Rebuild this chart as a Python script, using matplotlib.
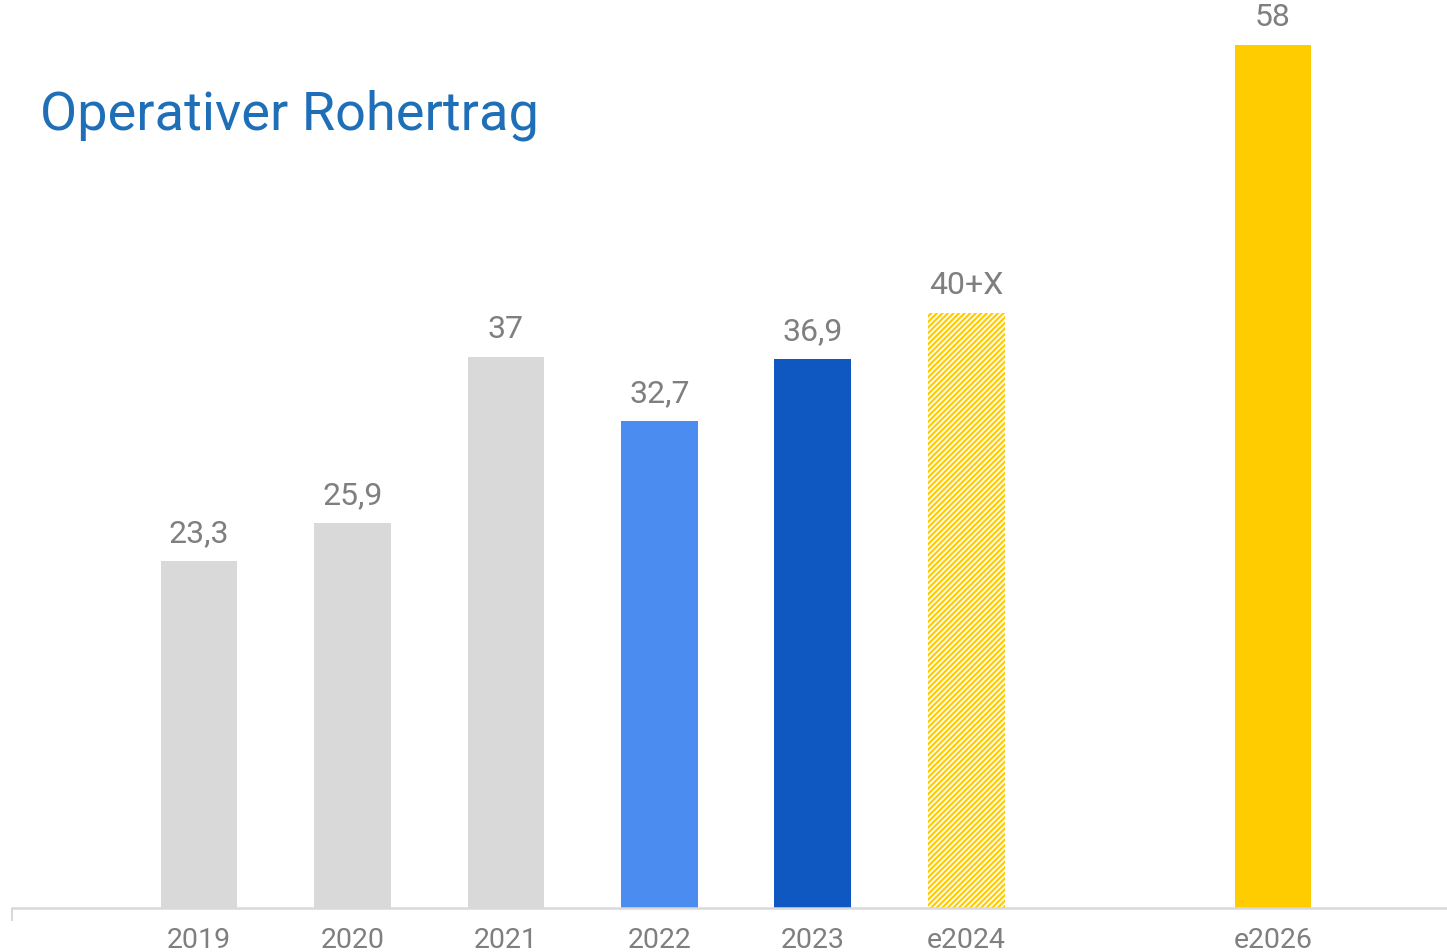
import matplotlib
matplotlib.use("Agg")
import matplotlib.pyplot as plt

plt.rcParams['font.family'] = ['Roboto', 'DejaVu Sans']
plt.rcParams['hatch.linewidth'] = 1.6

categories = ["2019", "2020", "2021", "2022", "2023", "e2024", "e2026"]
slots = [0, 1, 2, 3, 4, 5, 7]
values = [23.3, 25.9, 37.0, 32.7, 36.9, 40.0, 58.0]
value_labels = ["23,3", "25,9", "37", "32,7", "36,9", "40+X", "58"]
colors = ["#d9d9d9", "#d9d9d9", "#d9d9d9", "#4a8cef", "#0f57c1", "white", "#ffcc00"]
hatches = [None, None, None, None, None, "//////", None]

W, H = 1447, 953
fig = plt.figure(figsize=(W / 100, H / 100), dpi=100)
x0, x1 = 12, 1447
ybase, ytop = 909, 16
ax = fig.add_axes([x0 / W, (H - ybase) / H, (x1 - x0) / W, (ybase - ytop) / H])

for s, v, c, h, lab in zip(slots, values, colors, hatches, value_labels):
    if h:
        ax.bar(s, v, width=0.5, color="white", edgecolor="#ffcc00", hatch=h, linewidth=0)
    else:
        ax.bar(s, v, width=0.5, color=c, linewidth=0)
    ax.annotate(lab, (s, v), xytext=(0, 10), textcoords="offset points",
                ha="center", va="bottom", fontsize=23, color="#7f7f7f")

spacing = (1273 - 199) / 7
xmin = -(199 - x0) / spacing
xmax = 7 + (x1 - 1273) / spacing
ax.set_xlim(xmin, xmax)
ax.set_ylim(0, 60)

ax.set_xticks(slots)
ax.set_xticklabels(categories, fontsize=20.5, color="#7f7f7f")
ax.tick_params(axis="x", length=0, pad=13)
ax.set_xticks([xmin], minor=True)
ax.tick_params(axis="x", which="minor", length=9, width=1.5, color="#d9d9d9")
ax.set_yticks([])
for sp in ["top", "right", "left"]:
    ax.spines[sp].set_visible(False)
ax.spines["bottom"].set_color("#d9d9d9")
ax.spines["bottom"].set_linewidth(1.8)

fig.text(40 / W, 1 - 115 / H, "Operativer Rohertrag", fontsize=39, color="#1f6fb8",
         ha="left", va="center")

fig.savefig("out.png", dpi=100)
